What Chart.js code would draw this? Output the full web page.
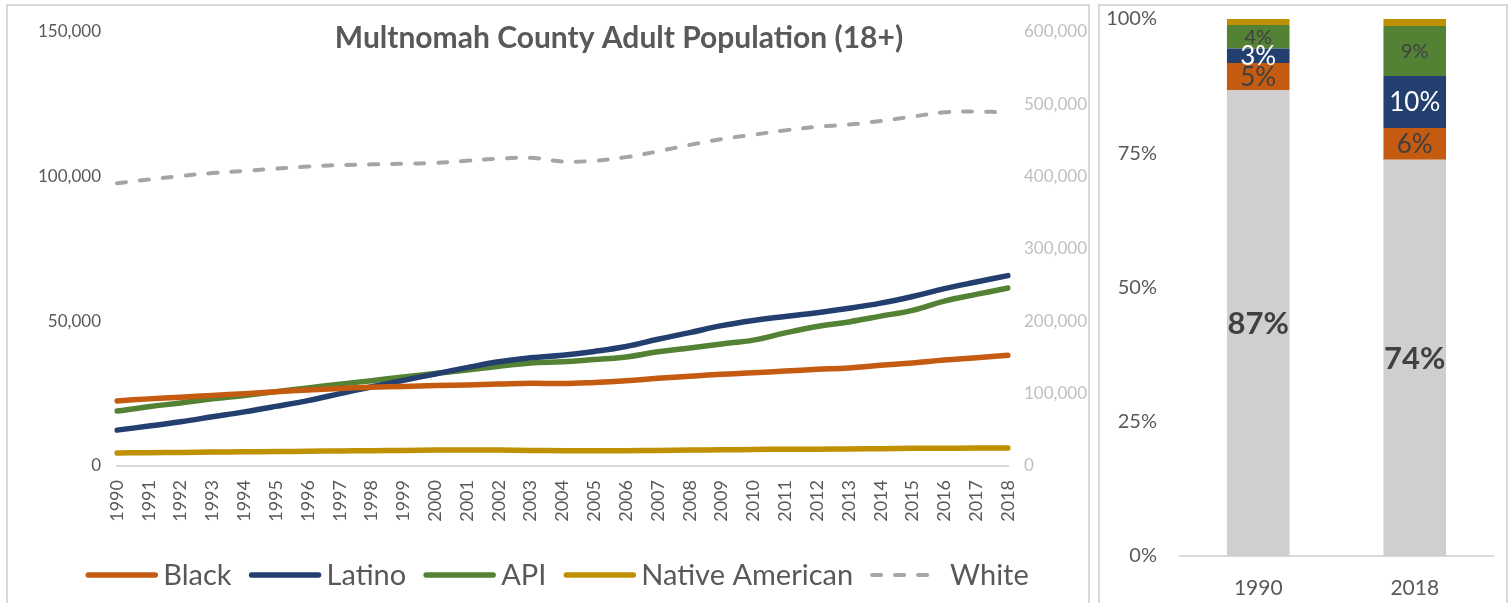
<!DOCTYPE html>
<html>
<head>
<meta charset="utf-8">
<script src="https://cdn.jsdelivr.net/npm/chart.js@4.4.1/dist/chart.umd.min.js"></script>
<style>
  body { margin: 0; background: #fff; width: 1510px; height: 603px; overflow: hidden; position: relative; }
  .frame { position: absolute; border: 2px solid #D9D9D9; box-sizing: border-box; }
  .box { position: absolute; }
</style>
</head>
<body>
<div class="frame" style="left:6px;top:4px;width:1084px;height:620px"></div>
<div class="frame" style="left:1098px;top:4px;width:410px;height:620px"></div>
<div class="box" style="left:8px;top:6px;width:1080px;height:597px"><canvas id="trend"></canvas></div>
<div class="box" style="left:1100px;top:6px;width:406px;height:597px"><canvas id="share"></canvas></div>

<script>
const years = ["1990", "1991", "1992", "1993", "1994", "1995", "1996", "1997", "1998", "1999",
  "2000", "2001", "2002", "2003", "2004", "2005", "2006", "2007", "2008", "2009",
  "2010", "2011", "2012", "2013", "2014", "2015", "2016", "2017", "2018"];
const black = [22500, 23200, 23800, 24400, 25000, 25700, 26300, 26800, 27200, 27500,
  27800, 28000, 28300, 28600, 28500, 28900, 29500, 30300, 31000, 31700,
  32200, 32800, 33400, 33900, 34800, 35600, 36600, 37400, 38300];
const latino = [12400, 13800, 15300, 17000, 18700, 20600, 22600, 25000, 27400, 29600,
  31800, 34000, 36000, 37400, 38300, 39600, 41300, 43800, 46100, 48500,
  50300, 51700, 53000, 54500, 56300, 58600, 61300, 63600, 65800];
const api = [19000, 20500, 21800, 23200, 24400, 25700, 27000, 28300, 29500, 30800,
  32000, 33200, 34500, 35600, 36000, 36800, 37700, 39500, 40800, 42200,
  43500, 46000, 48200, 49800, 51800, 53800, 57000, 59300, 61500];
const nativeAm = [4500, 4600, 4700, 4800, 4900, 5000, 5100, 5200, 5300, 5400,
  5500, 5500, 5500, 5400, 5300, 5300, 5300, 5400, 5500, 5600,
  5700, 5800, 5800, 5900, 6000, 6100, 6100, 6200, 6200];
const white = [391000, 396000, 401000, 405000, 408000, 411000, 414000, 416000, 417000, 418000,
  419000, 422000, 425000, 426000, 421000, 422000, 427000, 435000, 444000, 452000,
  458000, 464000, 469000, 472000, 477000, 483000, 489000, 490000, 489000];

const shareYears = ["1990", "2018"];
const shareWhite = [86.8, 73.8];
const shareBlack = [5.0, 5.9];
const shareLatino = [2.7, 9.7];
const shareApi = [4.4, 9.3];
const shareNative = [1.1, 1.3];

Chart.defaults.font.family = "Lato, 'Open Sans', sans-serif";
Chart.defaults.animation = false;

function commas(v) {
  return Number(v).toLocaleString("en-US");
}

// tick padding would otherwise push the plot down from the top
function fixWidth(w) {
  return function (s) {
    s.width = w;
    s.paddingTop = 0;
    s.paddingBottom = 0;
  };
}

// title and legend are drawn by hand so they can float like in the Excel chart
const trendDecor = {
  id: "trendDecor",
  afterDraw(chart) {
    const ctx = chart.ctx;
    ctx.save();
    ctx.fillStyle = "#595959";
    ctx.textBaseline = "middle";
    ctx.textAlign = "center";
    ctx.font = "bold 30px Lato";
    ctx.fillText("Multnomah County Adult Population (18+)", 611, 32);

    ctx.font = "29px Lato";
    ctx.textAlign = "left";
    const items = chart.data.datasets.map(function (ds) {
      const dashed = !!ds.borderDash;
      return { ds: ds, dashed: dashed, len: dashed ? 61 : 73, gap: dashed ? 19 : 5, w: ctx.measureText(ds.label).width };
    });
    let total = 0;
    items.forEach(function (it, i) { total += it.len + it.gap + it.w + (i ? 17 : 0); });
    let x = 549 - total / 2;
    const y = 569;
    items.forEach(function (it, i) {
      if (i) x += 17;
      ctx.beginPath();
      ctx.strokeStyle = it.ds.borderColor;
      ctx.lineCap = "round";
      if (it.dashed) {
        ctx.lineWidth = 4;
        ctx.setLineDash([9, 14]);
        ctx.moveTo(x + 2, y);
        ctx.lineTo(x + it.len - 2, y);
      } else {
        ctx.lineWidth = 5.5;
        ctx.setLineDash([]);
        ctx.moveTo(x + 3, y);
        ctx.lineTo(x + it.len - 3, y);
      }
      ctx.stroke();
      ctx.setLineDash([]);
      x += it.len + it.gap;
      ctx.fillStyle = "#595959";
      ctx.fillText(it.ds.label, x, y + 1);
      x += it.w;
    });
    ctx.restore();
  }
};

new Chart(document.getElementById("trend"), {
  type: "line",
  data: {
    labels: years,
    datasets: [
      { label: "Black", data: black, borderColor: "#C55A11", borderWidth: 5.5, yAxisID: "y" },
      { label: "Latino", data: latino, borderColor: "#223F70", borderWidth: 5.5, yAxisID: "y" },
      { label: "API", data: api, borderColor: "#548235", borderWidth: 5.5, yAxisID: "y" },
      { label: "Native American", data: nativeAm, borderColor: "#BF9000", borderWidth: 5.5, yAxisID: "y" },
      { label: "White", data: white, borderColor: "#A5A5A5", borderWidth: 4, borderDash: [9, 14], yAxisID: "y1" }
    ]
  },
  options: {
    responsive: true,
    maintainAspectRatio: false,
    layout: { padding: { top: 26, bottom: 60, left: 0, right: 0 } },
    elements: {
      point: { radius: 0 },
      line: { tension: 0.4, borderCapStyle: "round", borderJoinStyle: "round", fill: false }
    },
    plugins: { legend: { display: false }, tooltip: { enabled: false } },
    scales: {
      x: {
        grid: { display: false, drawTicks: false },
        border: { display: true, color: "#D9D9D9", width: 2 },
        ticks: { color: "#595959", font: { size: 18 }, minRotation: 90, maxRotation: 90, padding: 14, autoSkip: false },
        afterFit(s) { s.height = 77; }
      },
      y: {
        position: "left",
        min: 0,
        max: 150000,
        grid: { display: false, drawTicks: false },
        border: { display: false },
        ticks: { stepSize: 50000, color: "#595959", font: { size: 17 }, padding: 16, callback: commas },
        afterFit: fixWidth(109)
      },
      y1: {
        position: "right",
        min: 0,
        max: 600000,
        grid: { display: false, drawTicks: false },
        border: { display: false },
        ticks: { stepSize: 100000, color: "#BFBFBF", font: { size: 17 }, padding: 16, callback: commas },
        afterFit: fixWidth(80)
      }
    }
  },
  plugins: [trendDecor]
});

// percent labels inside the stacked segments
const segmentLabelStyle = [
  { font: "bold 31px Lato", color: "#404040" },
  { font: "26px Lato", color: "#404040" },
  { font: "26px Lato", color: "#FFFFFF" },
  { font: "20px Lato", color: "#404040" },
  null
];

const segmentLabels = {
  id: "segmentLabels",
  afterDatasetsDraw(chart) {
    const ctx = chart.ctx;
    ctx.save();
    ctx.textAlign = "center";
    ctx.textBaseline = "middle";
    chart.data.datasets.forEach(function (ds, i) {
      const st = segmentLabelStyle[i];
      if (!st) return;
      chart.getDatasetMeta(i).data.forEach(function (bar, j) {
        ctx.font = st.font;
        ctx.fillStyle = st.color;
        ctx.fillText(Math.round(ds.data[j]) + "%", bar.x, (bar.y + bar.base) / 2 + 1);
      });
    });
    ctx.restore();
  }
};

new Chart(document.getElementById("share"), {
  type: "bar",
  data: {
    labels: shareYears,
    datasets: [
      { label: "White", data: shareWhite, backgroundColor: "#D0CECE" },
      { label: "Black", data: shareBlack, backgroundColor: "#C55A11" },
      { label: "Latino", data: shareLatino, backgroundColor: "#223F70" },
      { label: "API", data: shareApi, backgroundColor: "#548235" },
      { label: "Native American", data: shareNative, backgroundColor: "#BF9000" }
    ]
  },
  options: {
    responsive: true,
    maintainAspectRatio: false,
    layout: { padding: { top: 13, right: 13, bottom: 0, left: 0 } },
    datasets: { bar: { barPercentage: 0.8, categoryPercentage: 0.5, borderWidth: 0 } },
    plugins: { legend: { display: false }, tooltip: { enabled: false } },
    scales: {
      x: {
        stacked: true,
        grid: { display: false, drawTicks: false },
        border: { display: true, color: "#D9D9D9", width: 2 },
        ticks: { color: "#595959", font: { size: 21 }, padding: 20 },
        afterFit(s) { s.height = 47; }
      },
      y: {
        stacked: true,
        min: 0,
        max: 100,
        grid: { display: false, drawTicks: false },
        border: { display: false },
        ticks: { stepSize: 25, color: "#595959", font: { size: 20 }, padding: 23, callback: function (v) { return v + "%"; } },
        afterFit: fixWidth(80)
      }
    }
  },
  plugins: [segmentLabels]
});
</script>
</body>
</html>
